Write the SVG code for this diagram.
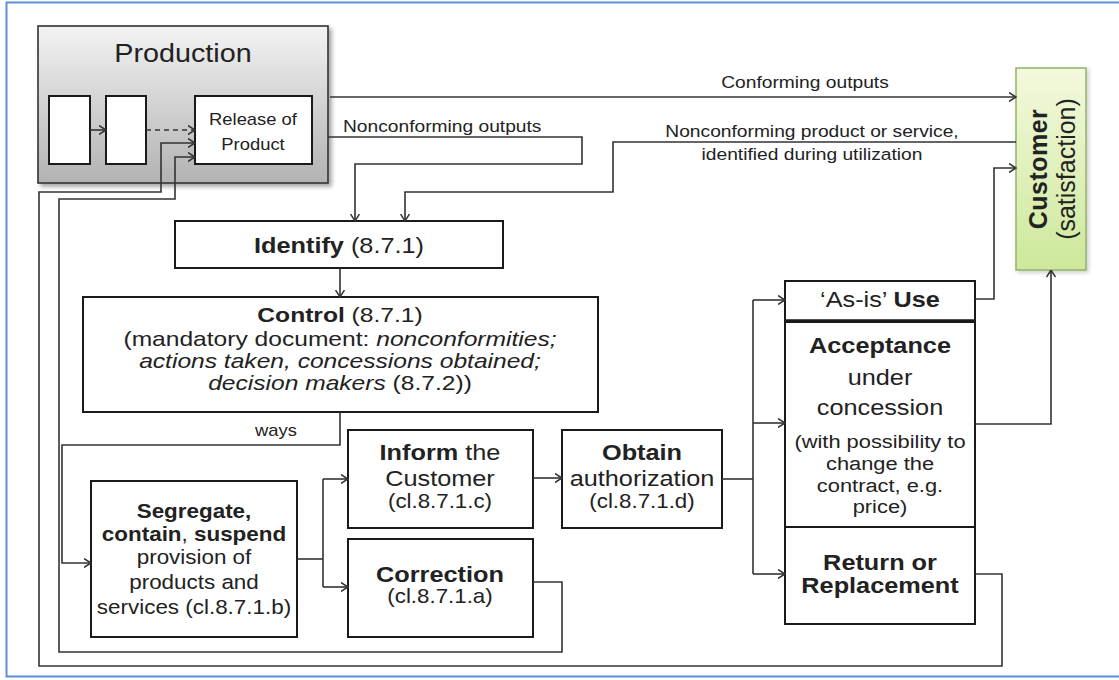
<svg xmlns="http://www.w3.org/2000/svg" width="1119" height="680" viewBox="0 0 1119 680">
<defs>
  <linearGradient id="gProd" x1="0" y1="0" x2="0" y2="1">
    <stop offset="0" stop-color="#f3f3f3"/>
    <stop offset="1" stop-color="#b2b2b2"/>
  </linearGradient>
  <linearGradient id="gCust" x1="0" y1="0" x2="0" y2="1">
    <stop offset="0" stop-color="#f3f9dd"/>
    <stop offset="1" stop-color="#cde89b"/>
  </linearGradient>
  <filter id="shadow" x="-10%" y="-10%" width="130%" height="130%">
    <feDropShadow dx="3" dy="3" stdDeviation="2" flood-color="#000" flood-opacity="0.35"/>
  </filter>
  <filter id="shadowL" x="-10%" y="-10%" width="130%" height="130%">
    <feDropShadow dx="2" dy="2" stdDeviation="2" flood-color="#000" flood-opacity="0.2"/>
  </filter>
  <marker id="arr" viewBox="0 0 8 10" refX="7.5" refY="5" markerWidth="8" markerHeight="10" markerUnits="userSpaceOnUse" orient="auto">
    <path d="M0.5,0.5 L7.5,5 L0.5,9.5" fill="none" stroke="#333" stroke-width="1.5"/>
  </marker>
</defs>
<style>
  text { font-family: "Liberation Sans", Arial, sans-serif; fill: #222; }
  .box { fill: #fff; stroke: #1a1a1a; stroke-width: 2; }
  .ln { fill: none; stroke: #333; stroke-width: 1.6; }
  .ar { marker-end: url(#arr); }
  .lbl { font-size: 16.7px; }
  .b { font-weight: bold; }
  .i { font-style: italic; }
  .mid { text-anchor: middle; }
</style>

<rect x="6.5" y="2.5" width="1125" height="674" fill="#fff" stroke="#5b8fd6" stroke-width="2"/>

<g id="production">
  <rect x="38" y="26" width="290" height="157" fill="url(#gProd)" stroke="#333" stroke-width="1.6" filter="url(#shadow)"/>
  <text class="mid" font-size="25" transform="translate(183,62) scale(1.15,1)">Production</text>
  <rect class="box" x="49" y="96" width="41" height="68"/>
  <rect class="box" x="106" y="96" width="40" height="68"/>
</g>

<g id="release">
  <rect class="box" x="195" y="96" width="117" height="68"/>
  <text class="mid" font-size="16" transform="translate(253,125) scale(1.15,1)">Release of<tspan x="0" dy="25">Product</tspan></text>
</g>

<g id="customer">
  <rect x="1016" y="68" width="70" height="202" fill="url(#gCust)" stroke="#94b268" stroke-width="1.5" filter="url(#shadowL)"/>
  <text class="mid" font-size="25" transform="translate(1047,169) rotate(-90)"><tspan class="b" letter-spacing="0.5">Customer</tspan><tspan x="0" dy="28">(satisfaction)</tspan></text>
</g>

<g id="identify">
  <rect class="box" x="175" y="221" width="328" height="47"/>
  <text class="mid" font-size="22" transform="translate(339,253) scale(1.15,1)"><tspan class="b">Identify</tspan> (8.7.1)</text>
</g>

<g id="control">
  <rect class="box" x="83" y="297" width="515" height="115"/>
  <text class="mid" font-size="20.5" transform="translate(340,322) scale(1.2,1)"><tspan class="b">Control</tspan> (8.7.1)<tspan x="0" dy="24">(mandatory document: </tspan><tspan class="i">nonconformities;</tspan><tspan class="i" x="0" dy="22">actions taken, concessions obtained;</tspan><tspan class="i" x="0" dy="22">decision makers</tspan> (8.7.2))</text>
</g>

<g id="segregate">
  <rect class="box" x="91" y="481" width="206" height="156"/>
  <text class="mid" font-size="19.5" transform="translate(194,518) scale(1.15,1)"><tspan class="b">Segregate,</tspan><tspan x="0" dy="23" class="b">contain</tspan>, <tspan class="b">suspend</tspan><tspan x="0" dy="23">provision of</tspan><tspan x="0" dy="25">products and</tspan><tspan x="0" dy="25">services (cl.8.7.1.b)</tspan></text>
</g>

<g id="inform">
  <rect class="box" x="348" y="430" width="185" height="98"/>
  <text class="mid" font-size="22" transform="translate(440,460) scale(1.15,1)"><tspan class="b">Inform</tspan> the<tspan x="0" dy="26">Customer</tspan><tspan x="0" dy="22" font-size="19.4">(cl.8.7.1.c)</tspan></text>
</g>

<g id="correction">
  <rect class="box" x="348" y="539" width="185" height="98"/>
  <text class="mid" font-size="22" transform="translate(440,582) scale(1.15,1)"><tspan class="b">Correction</tspan><tspan x="0" dy="21" font-size="19.4">(cl.8.7.1.a)</tspan></text>
</g>

<g id="obtain">
  <rect class="box" x="562" y="430" width="160" height="98"/>
  <text class="mid" font-size="22" transform="translate(642,460) scale(1.15,1)"><tspan class="b">Obtain</tspan><tspan x="0" dy="26">authorization</tspan><tspan x="0" dy="22" font-size="19.4">(cl.8.7.1.d)</tspan></text>
</g>

<g id="asis">
  <rect class="box" x="785" y="281" width="190" height="40"/>
  <line x1="785" y1="321" x2="975" y2="321" stroke="#1a1a1a" stroke-width="3.5"/>
  <text class="mid" font-size="22" transform="translate(880,307) scale(1.15,1)">‘As-is’ <tspan class="b">Use</tspan></text>
</g>

<g id="acceptance">
  <rect class="box" x="785" y="322" width="190" height="205"/>
  <text class="mid" font-size="22" transform="translate(880,353) scale(1.15,1)"><tspan class="b">Acceptance</tspan><tspan x="0" dy="32">under</tspan><tspan x="0" dy="30">concession</tspan><tspan x="0" dy="33" font-size="19">(with possibility to</tspan><tspan x="0" dy="22" font-size="19">change the</tspan><tspan x="0" dy="22" font-size="19">contract, e.g.</tspan><tspan x="0" dy="21" font-size="19">price)</tspan></text>
</g>

<g id="return">
  <rect class="box" x="785" y="527" width="190" height="97"/>
  <text class="mid b" font-size="22" transform="translate(880,570) scale(1.15,1)">Return or<tspan x="0" dy="23">Replacement</tspan></text>
</g>

<g id="connectors">
  <path class="ln ar" d="M90,130 H106"/>
  <path class="ln ar" d="M146,130 H195" stroke-dasharray="5,4"/>
  <path class="ln ar" d="M330,97 H1016"/>
  <path class="ln ar" d="M328,137 H582 V164 H355 V221"/>
  <path class="ln ar" d="M1016,142 H613 V192 H405 V221"/>
  <path class="ln ar" d="M340,268 V297"/>
  <path class="ln ar" d="M340,412 V445 H62 V563 H91"/>
  <path class="ln" d="M297,559 H323"/>
  <path class="ln" d="M323,479 V587"/>
  <path class="ln ar" d="M323,479 H348"/>
  <path class="ln ar" d="M323,587 H348"/>
  <path class="ln ar" d="M533,478 H562"/>
  <path class="ln" d="M722,479 H753" stroke-width="2.6"/>
  <path class="ln" d="M753,300 V574"/>
  <path class="ln ar" d="M753,300 H785"/>
  <path class="ln ar" d="M753,423 H785"/>
  <path class="ln ar" d="M753,574 H785"/>
  <path class="ln ar" d="M975,299 H994 V168 H1016"/>
  <path class="ln ar" d="M975,424 H1051 V270"/>
  <path class="ln ar" d="M975,574 H1002 V666 H39 V192 H161 V143 H195"/>
  <path class="ln ar" d="M533,582 H562 V652 H59 V199 H175 V157 H195"/>
  <text class="lbl mid" transform="translate(805,88) scale(1.15,1)">Conforming outputs</text>
  <text class="lbl" transform="translate(343,132) scale(1.15,1)">Nonconforming outputs</text>
  <text class="lbl mid" transform="translate(812,137) scale(1.15,1)">Nonconforming product or service,<tspan x="0" dy="23">identified during utilization</tspan></text>
  <text class="mid" font-size="16" transform="translate(276,436) scale(1.15,1)">ways</text>
</g>
</svg>
